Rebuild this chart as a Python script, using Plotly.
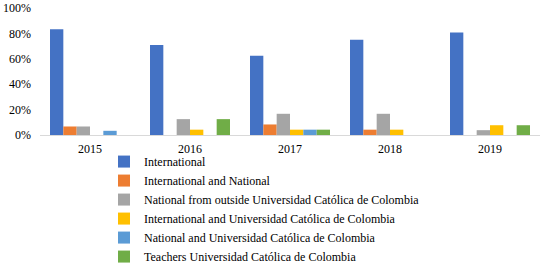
import plotly.graph_objects as go

years = ["2015", "2016", "2017", "2018", "2019"]
series_names = [
    "International",
    "International and National",
    "National from outside Universidad Católica de Colombia",
    "International and Universidad Católica de Colombia",
    "National and Universidad Católica de Colombia",
    "Teachers Universidad Católica de Colombia",
]
international = [0.833, 0.708, 0.625, 0.75, 0.808]
intl_and_national = [0.067, 0.0, 0.083, 0.042, 0.0]
national_outside = [0.067, 0.125, 0.167, 0.167, 0.038]
intl_and_ucc = [0.0, 0.042, 0.042, 0.042, 0.077]
national_and_ucc = [0.033, 0.0, 0.042, 0.0, 0.0]
teachers_ucc = [0.0, 0.125, 0.042, 0.0, 0.077]
colors = ["#4472C4", "#ED7D31", "#A5A5A5", "#FFC000", "#5B9BD5", "#70AD47"]

values = [international, intl_and_national, national_outside, intl_and_ucc, national_and_ucc, teachers_ucc]

fig = go.Figure()
for name, vals, c in zip(series_names, values, colors):
    fig.add_trace(go.Bar(x=years, y=vals, name=name, marker=dict(color=c, line=dict(width=0))))

font = "Liberation Serif, Times New Roman, serif"
fig.update_layout(
    width=542, height=264,
    margin=dict(l=40, r=2, t=8, b=129, autoexpand=False),
    paper_bgcolor="white", plot_bgcolor="white",
    barmode="group", bargap=0.2, bargroupgap=0,
    font=dict(family=font, size=12, color="#000000"),
    showlegend=True,
    legend=dict(x=0.128, y=-0.095, xanchor="left", yanchor="top", orientation="v",
                font=dict(family=font, size=12), tracegroupgap=0, itemwidth=30,
                bgcolor="rgba(0,0,0,0)", borderwidth=0, maxheight=400),
    xaxis=dict(showline=True, linecolor="#D9D9D9", linewidth=1, ticks="", showgrid=False,
               tickfont=dict(size=12), automargin=False, ticklabelstandoff=3),
    yaxis=dict(range=[0, 1], dtick=0.2, tickformat=".0%", showgrid=False, zeroline=False,
               showline=False, ticks="", tickfont=dict(size=12), automargin=False,
               ticklabelstandoff=8),
)
fig.write_html("out.html", config={"displayModeBar": False},
               post_script="document.body.style.margin='0';")
